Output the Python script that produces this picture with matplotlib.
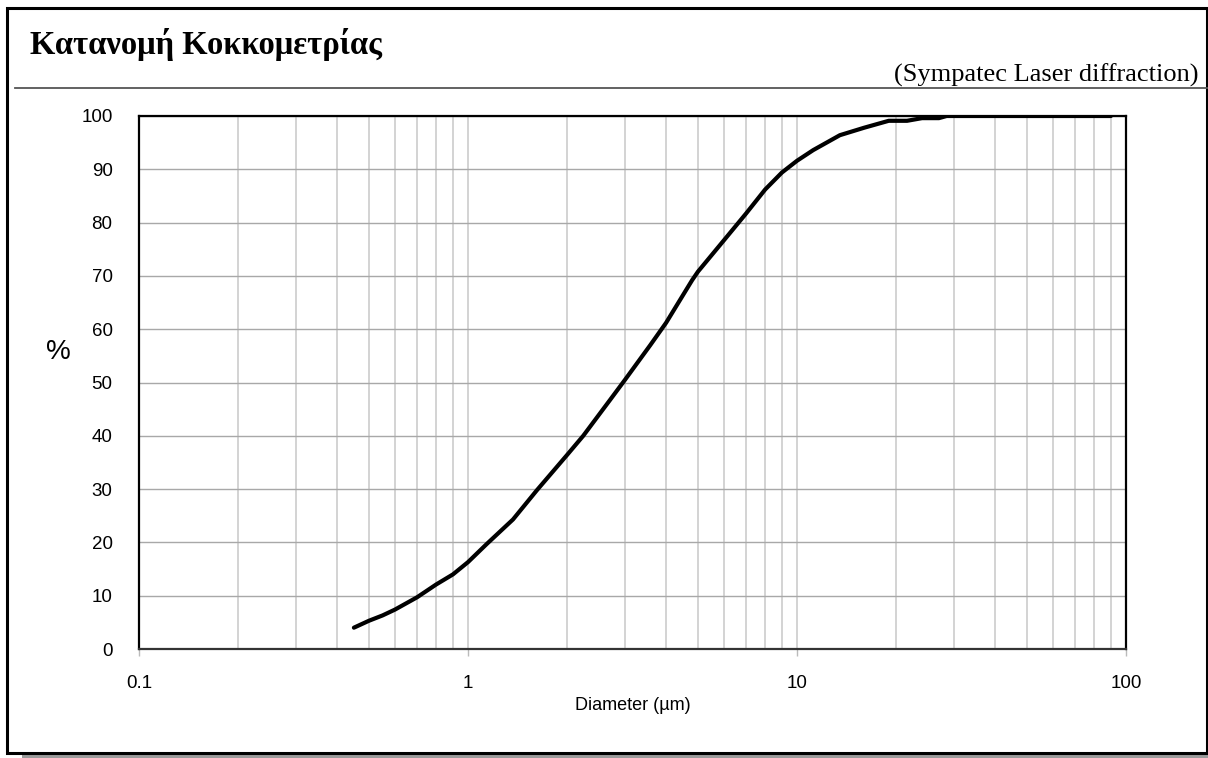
import numpy as np
import matplotlib
matplotlib.use("Agg")
import matplotlib.pyplot as plt
from matplotlib.patches import Rectangle
from matplotlib.lines import Line2D
from matplotlib.ticker import FixedLocator, NullFormatter

# Cumulative particle size distribution
diameter = [0.45, 0.5, 0.55, 0.6, 0.7, 0.8, 0.9, 1.0, 1.14, 1.37, 1.62, 2.0,
            2.24, 2.7, 3.0, 3.58, 4.0, 4.8, 5.0, 6.0, 7.0, 8.0, 9.0, 10.0,
            11.2, 13.5, 16.0, 19.0, 21.6, 24.0, 27.0, 28.5, 90.0]
cumulative = [4.0, 5.3, 6.3, 7.4, 9.7, 12.1, 14.0, 16.3, 19.7, 24.3, 29.8, 36.4,
              40.0, 46.7, 50.5, 57.0, 61.2, 69.2, 70.8, 76.7, 81.7, 86.2, 89.4, 91.6,
              93.6, 96.4, 97.8, 99.1, 99.1, 99.6, 99.6, 100.0, 100.0]

x_ticks = [0.1, 1, 10, 100]
x_ticklabels = ["0.1", "1", "10", "100"]
y_ticks = [0, 10, 20, 30, 40, 50, 60, 70, 80, 90, 100]

title = "Κατανομή Κοκκομετρίας"
subtitle = "(Sympatec Laser diffraction)"

W, H = 1208, 758
fig = plt.figure(figsize=(W / 100, H / 100), dpi=100)

def fx(px):
    return px / W

def fy(py):
    return 1 - py / H

# frame with shadow (kept below the axes)
fig.patches.append(Rectangle((fx(22), fy(758)), fx(1190), fy(13) - fy(758),
                             transform=fig.transFigure, facecolor="#9a9a9a",
                             edgecolor="none", zorder=-3))
fig.patches.append(Rectangle((fx(7), fy(753)), fx(1200), fy(8) - fy(753),
                             transform=fig.transFigure, facecolor="white",
                             edgecolor="black", linewidth=2.2, zorder=-2))
fig.lines.append(Line2D([fx(15), fx(1208)], [fy(88), fy(88)],
                        transform=fig.transFigure, color="#555555", linewidth=1.3))

fig.text(fx(30), fy(54), title, family="Liberation Serif", weight="bold",
         fontsize=23.5, ha="left", va="baseline")
fig.text(fx(1198), fy(82), subtitle, family="Liberation Serif",
         fontsize=19, ha="right", va="baseline")

ax = fig.add_axes([fx(139), fy(649), fx(1126) - fx(139), fy(116) - fy(649)])
ax.set_xscale("log")
ax.set_xlim(0.1, 100)
ax.set_ylim(0, 100)

# grid
ax.xaxis.set_major_locator(FixedLocator(x_ticks))
minors = [m * 10.0 ** e for e in (-1, 0, 1) for m in range(2, 10)]
ax.xaxis.set_minor_locator(FixedLocator(minors))
ax.xaxis.set_minor_formatter(NullFormatter())
ax.set_xticklabels(x_ticklabels)
ax.set_yticks(y_ticks)
ax.grid(True, axis="x", which="both", color="#c8c8c8", linewidth=1.1)
ax.grid(True, axis="y", which="major", color="#a8a8a8", linewidth=1.0)

ax.plot(diameter, cumulative, color="black", linewidth=3.0,
        solid_capstyle="round", solid_joinstyle="round", zorder=3)

for s in ax.spines.values():
    s.set_color("black")
    s.set_linewidth(1.6)
    s.set_zorder(4)
ax.spines["bottom"].set_color("#333333")

ax.tick_params(axis="x", which="major", length=5, color="#bbbbbb", width=1,
               pad=14, labelsize=13.5)
ax.tick_params(axis="x", which="minor", length=0)
ax.tick_params(axis="y", length=0, pad=19, labelsize=13.5)
for lab in ax.get_xticklabels() + ax.get_yticklabels():
    lab.set_family("Liberation Sans")

ax.set_xlabel("Diameter (µm)", family="Liberation Sans", fontsize=13, labelpad=3)
fig.text(fx(58), fy(352), "%", family="Liberation Sans", fontsize=20,
         ha="center", va="center")

fig.savefig("out.png", dpi=100)
